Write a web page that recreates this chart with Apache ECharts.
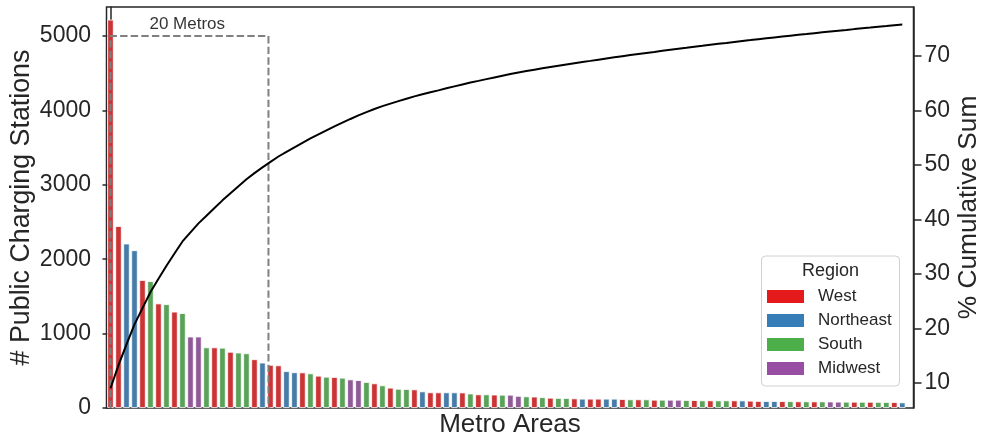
<!DOCTYPE html>
<html><head><meta charset="utf-8">
<script src="https://cdn.jsdelivr.net/npm/echarts@6/dist/echarts.min.js"></script>
<style>html,body{margin:0;padding:0;background:#fff}#c{width:986px;height:440px}</style>
</head><body><div id="c"></div>
<script>
// ---- data ----
const regionNames = ['West', 'Northeast', 'South', 'Midwest'];

const stations = [
  5220, 2445, 2210, 2120, 1720, 1705, 1405, 1395, 1295, 1275,
  960, 960, 815, 815, 810, 755, 745, 735, 655, 610,
  580, 573, 495, 480, 478, 465, 434, 420, 416, 407,
  384, 375, 349, 331, 304, 273, 258, 255, 250, 223,
  210, 210, 210, 210, 208, 194, 183, 183, 180, 178,
  178, 163, 156, 153, 145, 138, 135, 134, 129, 125,
  125, 125, 125, 125, 120, 116, 116, 116, 111, 111,
  111, 111, 107, 106, 102, 102, 102, 102, 102, 101,
  98, 94, 93, 93, 92, 91, 89, 89, 88, 88,
  87, 85, 84, 84, 83, 83, 82, 80, 79, 75
];

const regions = [
  'West','West','Northeast','Northeast','West','South','West','South','West','South',
  'Midwest','Midwest','South','West','South','West','South','South','West','Northeast',
  'West','West','Northeast','Northeast','West','South','West','South','West','South',
  'Midwest','Midwest','South','West','South','West','South','South','West','Northeast',
  'West','West','Northeast','Northeast','West','South','West','South','West','South',
  'Midwest','Midwest','South','West','South','West','South','South','West','Northeast',
  'West','West','Northeast','Northeast','West','South','West','South','West','South',
  'Midwest','Midwest','South','West','South','West','South','South','West','Northeast',
  'West','West','Northeast','Northeast','West','South','West','South','West','South',
  'Midwest','Midwest','South','West','South','West','South','South','West','Northeast'
];

const cumulativePct = [
  9.03, 13.26, 17.09, 20.75, 23.73, 26.68, 29.11, 31.52, 33.76, 35.97,
  37.63, 39.29, 40.70, 42.11, 43.51, 44.82, 46.11, 47.38, 48.51, 49.57,
  50.57, 51.56, 52.42, 53.25, 54.08, 54.88, 55.63, 56.36, 57.08, 57.78,
  58.45, 59.10, 59.70, 60.27, 60.80, 61.27, 61.72, 62.16, 62.59, 62.98,
  63.34, 63.70, 64.07, 64.43, 64.79, 65.13, 65.44, 65.76, 66.07, 66.38,
  66.69, 66.97, 67.24, 67.50, 67.75, 67.99, 68.23, 68.46, 68.68, 68.90,
  69.11, 69.33, 69.55, 69.76, 69.97, 70.17, 70.37, 70.57, 70.76, 70.96,
  71.15, 71.34, 71.52, 71.71, 71.88, 72.06, 72.24, 72.41, 72.59, 72.77,
  72.93, 73.10, 73.26, 73.42, 73.58, 73.74, 73.89, 74.04, 74.20, 74.35,
  74.50, 74.65, 74.79, 74.94, 75.08, 75.22, 75.37, 75.50, 75.64, 75.77
];

const leftTicks = [0, 1000, 2000, 3000, 4000, 5000];
const rightTicks = [10, 20, 30, 40, 50, 60, 70];

const boxLabel = '20 Metros';
const boxTop = 5000;
const boxRight = 19.75;
const boxLabelPos = [9.6, 5030];

// ---- styles ----
const barColors = {West:'#cb3335', Northeast:'#477ca8', South:'#59a257', Midwest:'#905998'};
const legendColors = {West:'#e41a1c', Northeast:'#377eb8', South:'#4daf4a', Midwest:'#984ea3'};
const FONT = "'Liberation Sans', Arial, sans-serif";
const TXT = '#262626';

const chart = echarts.init(document.getElementById('c'), null, {renderer:'canvas'});

const option = {
  animation: false,
  backgroundColor: '#fff',
  textStyle: {fontFamily: FONT},
  grid: {left:106.5, right:72.5, top:7, bottom:32, show:true, borderColor:TXT, borderWidth:1.5,
         backgroundColor:'transparent', containLabel:false, outerBoundsMode:'none'},
  xAxis: {
    type:'value', min:-0.5, max:100.4,
    axisLine:{show:false}, axisTick:{show:false}, axisLabel:{show:false}, splitLine:{show:false},
    name:'Metro Areas', nameLocation:'middle', nameGap:4, nameMoveOverlap:false,
    nameTextStyle:{fontSize:26, color:TXT, fontFamily:FONT, verticalAlign:'top'}
  },
  yAxis: [
    {
      type:'value', min:0, max:5390, position:'left',
      axisLine:{show:true, lineStyle:{color:TXT, width:1.5}},
      axisTick:{show:true, length:8, lineStyle:{color:TXT, width:1.5}, customValues:leftTicks},
      axisLabel:{customValues:leftTicks, fontSize:23, color:TXT, margin:15.5, fontFamily:FONT,
                 formatter: v => String(v)},
      splitLine:{show:false},
      name:'# Public Charging Stations', nameLocation:'middle', nameRotate:90, nameGap:71,
      nameMoveOverlap:false,
      nameTextStyle:{fontSize:26.8, color:TXT, fontFamily:FONT}
    },
    {
      type:'value', min:5.4, max:79, position:'right',
      axisLine:{show:true, lineStyle:{color:TXT, width:1.5}},
      axisTick:{show:true, length:8, lineStyle:{color:TXT, width:1.5}, customValues:rightTicks},
      axisLabel:{customValues:rightTicks, fontSize:23, color:TXT, margin:11, fontFamily:FONT,
                 formatter: v => String(v)},
      splitLine:{show:false},
      name:'% Cumulative Sum', nameLocation:'middle', nameRotate:90, nameGap:42,
      nameMoveOverlap:false,
      nameTextStyle:{fontSize:26.3, color:TXT, fontFamily:FONT}
    }
  ],
  legend: {
    data: regionNames.map(n => ({name:n, icon:'rect', itemStyle:{color:legendColors[n]}})),
    orient:'vertical', left:767, top:288, padding:0,
    itemWidth:37, itemHeight:13, itemGap:7, selectedMode:false,
    textStyle:{fontSize:17, color:TXT, fontFamily:FONT, lineHeight:17, padding:[0,0,0,9]}
  },
  graphic: [
    {type:'rect', z:1, shape:{x:761.5, y:256, width:138, height:130, r:4},
     style:{fill:'rgba(255,255,255,0.85)', stroke:'#d0d0d0', lineWidth:1}},
    {type:'text', z:2, x:830.5, y:271,
     style:{text:'Region', fontSize:18, fill:TXT, fontFamily:FONT, align:'center', verticalAlign:'middle'}}
  ],
  series: [
    {
      type:'bar', name:'stations', xAxisIndex:0, yAxisIndex:0, barWidth:6.4,
      data: stations.map((v, i) => ({value:[i, v], itemStyle:{color:barColors[regions[i]]}})),
      itemStyle:{borderColor:'#ffffff', borderWidth:0.8}, z:2, silent:true
    },
    ...regionNames.map(n => ({type:'line', name:n, data:[], itemStyle:{color:legendColors[n]}})),
    {
      type:'line', name:'box', yAxisIndex:0, symbol:'none', z:4, silent:true,
      data:[[0, 0], [0, boxTop], [boxRight, boxTop], [boxRight, 0]],
      lineStyle:{color:'#808080', width:2, type:[7.4, 3.2]}
    },
    {
      type:'line', name:'cumulative', yAxisIndex:1, symbol:'none', z:5, silent:true,
      data: cumulativePct.map((v, i) => [i, v]),
      lineStyle:{color:'#000000', width:2}
    },
    {
      type:'scatter', name:'boxlabel', yAxisIndex:0, symbolSize:1, z:6, silent:true,
      itemStyle:{color:'transparent'},
      data:[boxLabelPos],
      label:{show:true, formatter:boxLabel, position:'top', distance:0, fontSize:17, color:'#000', fontFamily:FONT}
    }
  ]
};
chart.setOption(option);
</script>
</body></html>
